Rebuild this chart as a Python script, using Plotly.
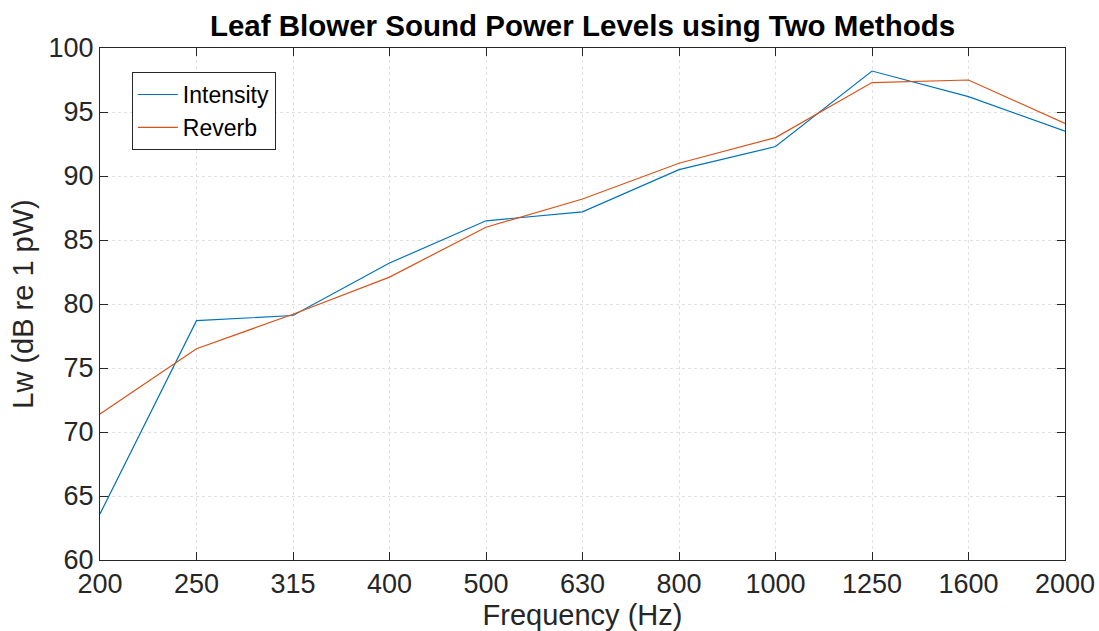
import plotly.graph_objects as go

freqs = ["200", "250", "315", "400", "500", "630", "800", "1000", "1250", "1600", "2000"]
intensity = [63.6, 78.7, 79.1, 83.2, 86.5, 87.2, 90.5, 92.3, 98.2, 96.2, 93.5]
reverb = [71.4, 76.5, 79.2, 82.1, 86.0, 88.2, 91.0, 93.0, 97.3, 97.5, 94.1]
yticks = [60, 65, 70, 75, 80, 85, 90, 95, 100]

font = "Liberation Sans, Arial, Helvetica, sans-serif"

fig = go.Figure()
fig.add_trace(go.Scatter(x=freqs, y=intensity, mode="lines", name="Intensity",
                         line=dict(color="#0072BD", width=1.2)))
fig.add_trace(go.Scatter(x=freqs, y=reverb, mode="lines", name="Reverb",
                         line=dict(color="#D95319", width=1.2)))

axis_common = dict(showline=True, linecolor="#262626", linewidth=1, mirror="ticks",
                   ticks="inside", ticklen=8, tickcolor="#262626",
                   showgrid=True, gridcolor="#E0E0E0", griddash="dot", gridwidth=1,
                   zeroline=False, automargin=False,
                   tickfont=dict(family=font, size=27, color="#262626"))

fig.update_layout(
    width=1099, height=631,
    margin=dict(l=100, r=34, t=48, b=71),
    paper_bgcolor="white", plot_bgcolor="white",
    title=dict(text="<b>Leaf Blower Sound Power Levels using Two Methods</b>",
               x=(100 + 1065) / 2 / 1099, xanchor="center", y=0.96, yanchor="middle",
               font=dict(family=font, size=29.5, color="black")),
    xaxis=dict(type="category", range=[0, 10], categoryorder="array", categoryarray=freqs,
               title=dict(text="Frequency (Hz)", font=dict(family=font, size=29, color="#262626"), standoff=0),
               **axis_common),
    yaxis=dict(range=[60, 100], tickvals=yticks,
               title=dict(text="Lw (dB re 1 pW)", font=dict(family=font, size=29, color="#262626"), standoff=6),
               **axis_common),
    legend=dict(x=0.033, y=0.953, xanchor="left", yanchor="top",
                bordercolor="#262626", borderwidth=1, bgcolor="white",
                font=dict(family=font, size=23, color="black"),
                tracegroupgap=0, itemwidth=40),
    showlegend=True,
)

fig.write_html("out.html")
